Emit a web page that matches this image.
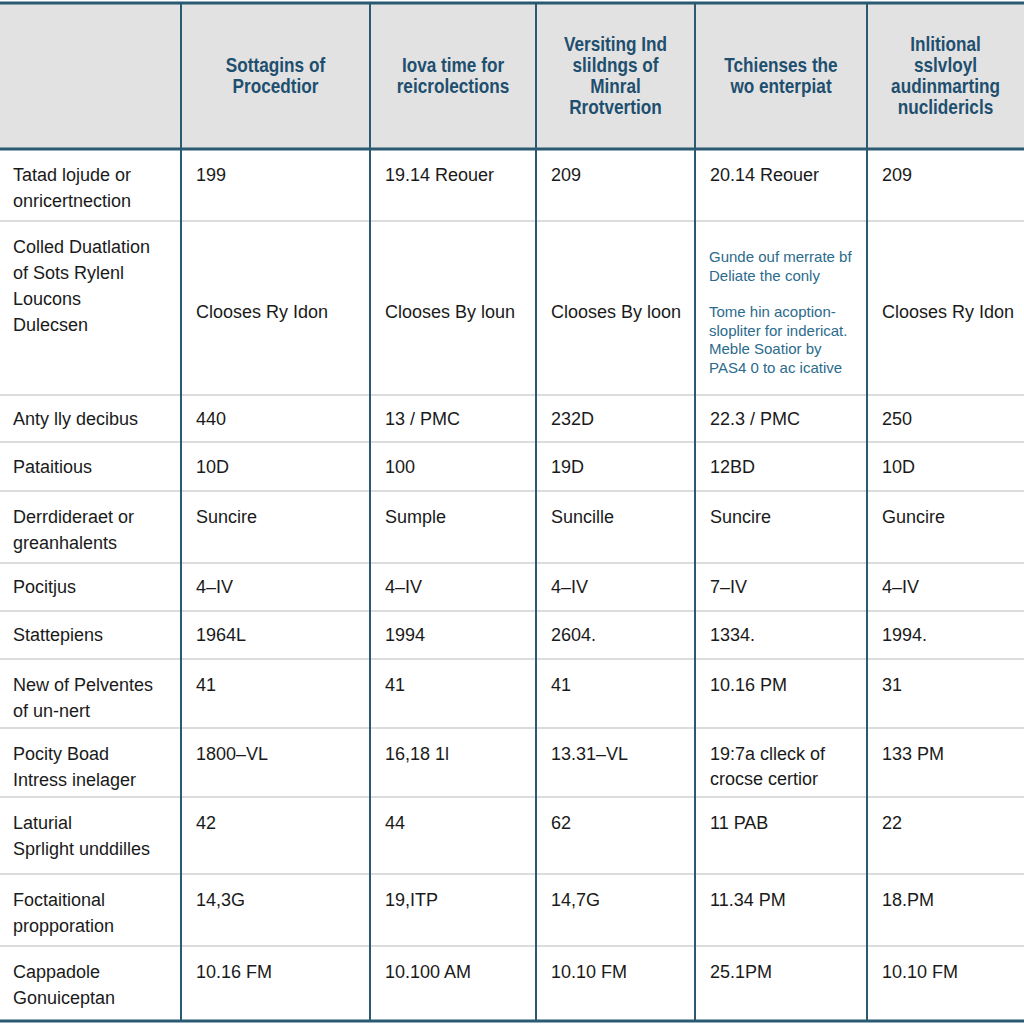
<!DOCTYPE html>
<html>
<head>
<meta charset="utf-8">
<script src="https://cdn.jsdelivr.net/npm/d3@7"></script>
<style>
  html, body { margin: 0; padding: 0; background: #fff; }
  svg { display: block; }
</style>
</head>
<body>
<script>
// column headers (one entry per value column, split into lines)
const headers = [
  ["Sottagins of", "Procedtior"],
  ["Iova time for", "reicrolections"],
  ["Versiting Ind", "slildngs of", "Minral", "Rrotvertion"],
  ["Tchienses the", "wo enterpiat"],
  ["Inlitional", "sslvloyl", "audinmarting", "nuclidericls"]
];

// row labels
const rowLabels = [
  ["Tatad lojude or", "onricertnection"],
  ["Colled Duatlation", "of Sots Rylenl", "Loucons", "Dulecsen"],
  ["Anty lly decibus"],
  ["Pataitious"],
  ["Derrdideraet or", "greanhalents"],
  ["Pocitjus"],
  ["Stattepiens"],
  ["New of Pelventes", "of un-nert"],
  ["Pocity Boad", "Intress inelager"],
  ["Laturial", "Sprlight unddilles"],
  ["Foctaitional", "propporation"],
  ["Cappadole", "Gonuiceptan"]
];

// cell values, one array per column
const col1 = ["199", "Clooses Ry Idon", "440", "10D", "Suncire", "4–IV", "1964L", "41", "1800–VL", "42", "14,3G", "10.16 FM"];
const col2 = ["19.14 Reouer", "Clooses By loun", "13 / PMC", "100", "Sumple", "4–IV", "1994", "41", "16,18 1l", "44", "19,ITP", "10.100 AM"];
const col3 = ["209", "Clooses By loon", "232D", "19D", "Suncille", "4–IV", "2604.", "41", "13.31–VL", "62", "14,7G", "10.10 FM"];
const col4 = ["20.14 Reouer", "NOTE", "22.3 / PMC", "12BD", "Suncire", "7–IV", "1334.", "10.16 PM", "19:7a clleck of\ncrocse certior", "11 PAB", "11.34 PM", "25.1PM"];
const col5 = ["209", "Clooses Ry Idon", "250", "10D", "Guncire", "4–IV", "1994.", "31", "133 PM", "22", "18.PM", "10.10 FM"];
const columns = [col1, col2, col3, col4, col5];

// small teal note in the second row of column 4
const noteParas = [
  ["Gunde ouf merrate bf", "Deliate the conly"],
  ["Tome hin acoption-", "slopliter for indericat.", "Meble Soatior by", "PAS4 0 to ac icative"]
];

// layout
const width = 1024, height = 1024;
const colEdges = [0, 181, 370, 536, 695, 867, 1024];
const headerTop = 3, headerBottom = 149;
const rowEdges = [149, 221, 395, 442, 491, 563, 611, 659, 728, 797, 874, 946, 1021];

const dark = "#2a5a72";
const teal = "#1f4f6e";
const noteColor = "#2b6b8c";
const textColor = "#1a1a1a";
const bodyFont = "'Liberation Sans', Arial, sans-serif";
const headFont = "'Liberation Sans', Arial, sans-serif";

const svg = d3.create("svg")
  .attr("width", width)
  .attr("height", height)
  .attr("viewBox", `0 0 ${width} ${height}`);

svg.append("rect").attr("width", width).attr("height", height).attr("fill", "#fff");

// header background
svg.append("rect")
  .attr("x", 0).attr("y", headerTop)
  .attr("width", width).attr("height", headerBottom - headerTop)
  .attr("fill", "#e2e2e2");

// row separators (light)
svg.selectAll(".rowline")
  .data(rowEdges.slice(1, -1))
  .join("line")
  .attr("x1", 0).attr("x2", width)
  .attr("y1", d => d).attr("y2", d => d)
  .attr("stroke", "#dcdcdc")
  .attr("stroke-width", 2);

// vertical column lines
svg.selectAll(".colline")
  .data(colEdges.slice(1, -1))
  .join("line")
  .attr("x1", d => d).attr("x2", d => d)
  .attr("y1", headerTop).attr("y2", rowEdges[rowEdges.length - 1])
  .attr("stroke", dark)
  .attr("stroke-width", 2);

// thick horizontal borders
[headerTop, headerBottom, rowEdges[rowEdges.length - 1]].forEach(y => {
  svg.append("line")
    .attr("x1", 0).attr("x2", width)
    .attr("y1", y).attr("y2", y)
    .attr("stroke", dark)
    .attr("stroke-width", 3);
});

// header text (condensed bold, squeezed horizontally)
const headLine = 21;
headers.forEach((lines, i) => {
  const cx = (colEdges[i + 1] + colEdges[i + 2]) / 2;
  const cy = (headerTop + headerBottom) / 2;
  const y0 = cy - (lines.length - 1) * headLine / 2;
  svg.append("g").selectAll("text")
    .data(lines)
    .join("text")
    .attr("transform", (d, k) => `translate(${cx},${y0 + k * headLine}) scale(0.86,1)`)
    .attr("text-anchor", "middle")
    .attr("dominant-baseline", "central")
    .attr("font-family", headFont)
    .attr("font-weight", "bold")
    .attr("font-size", 20)
    .attr("fill", teal)
    .text(d => d);
});

const lineH = 26;
const firstLine = r => {
  const top = rowEdges[r], bot = rowEdges[r + 1];
  return Math.min(top + 26, (top + bot) / 2);
};

// row labels
rowLabels.forEach((lines, r) => {
  const y0 = firstLine(r);
  svg.append("g").selectAll("text")
    .data(lines)
    .join("text")
    .attr("x", 13)
    .attr("y", (d, k) => y0 + k * lineH)
    .attr("dominant-baseline", "central")
    .attr("font-family", bodyFont)
    .attr("font-size", 18)
    .attr("fill", textColor)
    .text(d => d);
});

// cells
columns.forEach((col, c) => {
  const x = colEdges[c + 1] + 15;
  col.forEach((val, r) => {
    if (val === "NOTE") {
      const noteH = 18.5;
      const mid = (rowEdges[r] + rowEdges[r + 1]) / 2 + 4;
      const total = (noteParas[0].length + noteParas[1].length - 1) * noteH + 18;
      let y = mid - total / 2;
      noteParas.forEach((para, p) => {
        para.forEach(line => {
          svg.append("text")
            .attr("x", x - 1).attr("y", y)
            .attr("dominant-baseline", "central")
            .attr("font-family", bodyFont)
            .attr("font-size", 15)
            .attr("fill", noteColor)
            .text(line);
          y += noteH;
        });
        y += 18;
      });
      return;
    }
    const lines = val.split("\n");
    // second row values sit in the middle of the tall cell
    const y0 = r === 1 ? (rowEdges[r] + rowEdges[r + 1]) / 2 + 4 : firstLine(r);
    svg.append("g").selectAll("text")
      .data(lines)
      .join("text")
      .attr("x", x)
      .attr("y", (d, k) => y0 + k * (lineH - 1))
      .attr("dominant-baseline", "central")
      .attr("font-family", bodyFont)
      .attr("font-size", 18)
      .attr("fill", textColor)
      .text(d => d);
  });
});

document.body.append(svg.node());
</script>
</body>
</html>
